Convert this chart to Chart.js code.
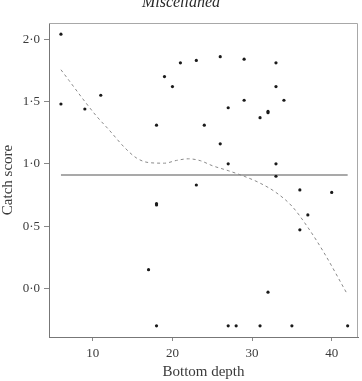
<!DOCTYPE html>
<html>
<head>
<meta charset="utf-8">
<script src="https://cdn.jsdelivr.net/npm/chart.js@4/dist/chart.umd.min.js"></script>
<style>
  html, body { margin: 0; padding: 0; background: #fff; }
  #wrap { width: 362px; height: 381px; position: relative; }
</style>
</head>
<body>
<div id="wrap"><canvas id="c" width="362" height="381"></canvas></div>
<script>
const chartTitle = "Miscellanea";
const xAxisTitle = "Bottom depth";
const yAxisTitle = "Catch score";

// Observed points
const depthX = [6, 6, 9, 11, 18, 19, 20, 21, 23, 26, 29, 33, 33, 29, 34, 27, 32, 32, 31, 24, 26, 27, 33, 33, 23, 36, 40, 37, 36, 32, 27, 28, 31, 35, 42, 18, 18, 17, 18];
const catchY = [2.04, 1.48, 1.44, 1.55, 1.31, 1.70, 1.62, 1.81, 1.83, 1.86, 1.84, 1.81, 1.62, 1.51, 1.51, 1.45, 1.42, 1.41, 1.37, 1.31, 1.16, 1.00, 1.00, 0.90, 0.83, 0.79, 0.77, 0.59, 0.47, -0.03, -0.30, -0.30, -0.30, -0.30, -0.30, 0.67, 0.68, 0.15, -0.30];

// Mean line
const meanX = [6, 42];
const meanY = [0.91, 0.91];

// Smoothed curve (dashed)
const smoothX = [6, 7, 9, 10.5, 12, 14, 15.5, 17, 19, 20.5, 22, 23.5, 25, 27, 29, 31, 33, 35, 37, 39, 41.9];
const smoothY = [1.755, 1.67, 1.50, 1.38, 1.275, 1.13, 1.046, 1.01, 1.005, 1.027, 1.04, 1.025, 0.985, 0.945, 0.90, 0.845, 0.77, 0.66, 0.49, 0.29, -0.04];

// Axis ticks
const xTicks = [10, 20, 30, 40];
const yTicks = [0, 0.5, 1, 1.5, 2];
const yTickLabels = ["0·0", "0·5", "1·0", "1·5", "2·0"];

const toXY = (xs, ys) => xs.map((x, i) => ({ x: x, y: ys[i] }));

const serif = "'Liberation Serif', 'DejaVu Serif', serif";

const framePlugin = {
  id: 'frame',
  beforeDatasetsDraw(chart) {
    const { ctx, chartArea: a } = chart;
    ctx.save();
    ctx.strokeStyle = '#a8a8a8';
    ctx.lineWidth = 1;
    ctx.beginPath();
    ctx.moveTo(a.left, a.top + 0.5);
    ctx.lineTo(a.right - 0.5, a.top + 0.5);
    ctx.lineTo(a.right - 0.5, a.bottom);
    ctx.stroke();
    ctx.restore();
  },
  afterDraw(chart) {
    const { ctx } = chart;
    ctx.save();
    ctx.font = "italic 16px " + serif;
    ctx.fillStyle = '#2a2a2a';
    ctx.textAlign = 'center';
    ctx.textBaseline = 'alphabetic';
    ctx.fillText(chartTitle, 181, 6.5);
    ctx.restore();
  }
};

new Chart(document.getElementById('c'), {
  type: 'scatter',
  data: {
    datasets: [
      {
        label: 'points',
        data: toXY(depthX, catchY),
        pointRadius: 1.6,
        pointHoverRadius: 1.6,
        pointBackgroundColor: '#1a1a1a',
        pointBorderWidth: 0,
        showLine: false,
        order: 1
      },
      {
        label: 'mean',
        data: toXY(meanX, meanY),
        showLine: true,
        borderColor: '#8c8c8c',
        borderWidth: 1.6,
        pointRadius: 0,
        order: 3
      },
      {
        label: 'smooth',
        data: toXY(smoothX, smoothY),
        showLine: true,
        borderColor: '#8a8a8a',
        borderWidth: 1,
        borderDash: [3, 3],
        cubicInterpolationMode: 'monotone',
        pointRadius: 0,
        order: 2
      }
    ]
  },
  options: {
    responsive: false,
    devicePixelRatio: 1,
    animation: false,
    layout: { padding: { left: 0, right: 4, top: 23, bottom: 0 } },
    plugins: {
      legend: { display: false },
      title: { display: false },
      tooltip: { enabled: false }
    },
    scales: {
      x: {
        type: 'linear',
        min: 4.5,
        max: 43.3,
        afterBuildTicks(scale) { scale.ticks = xTicks.map(v => ({ value: v })); },
        afterFit(scale) { scale.height = 44; },
        ticks: {
          color: '#3a3a3a',
          font: { family: serif, size: 13 },
          padding: 5,
          maxRotation: 0,
          callback: (v) => String(v)
        },
        grid: {
          drawOnChartArea: false,
          drawTicks: true,
          tickLength: 4,
          color: '#888'
        },
        border: { display: true, color: '#777', width: 1 },
        title: {
          display: true,
          text: xAxisTitle,
          color: '#3a3a3a',
          font: { family: serif, size: 15, lineHeight: 1.2 },
          padding: { top: 0, bottom: 0 }
        }
      },
      y: {
        type: 'linear',
        min: -0.39,
        max: 2.13,
        afterBuildTicks(scale) { scale.ticks = yTicks.map(v => ({ value: v })); },
        afterFit(scale) { scale.width = 49; },
        ticks: {
          color: '#3a3a3a',
          font: { family: serif, size: 13 },
          padding: 4,
          callback: (v) => {
            const i = yTicks.indexOf(v);
            return i >= 0 ? yTickLabels[i] : '';
          }
        },
        grid: {
          drawOnChartArea: false,
          drawTicks: true,
          tickLength: 5,
          color: '#888'
        },
        border: { display: true, color: '#777', width: 1 },
        title: {
          display: true,
          text: yAxisTitle,
          color: '#3a3a3a',
          font: { family: serif, size: 15, lineHeight: 1.1 },
          padding: { top: 0, bottom: 0 }
        }
      }
    }
  },
  plugins: [framePlugin]
});
</script>
</body>
</html>
